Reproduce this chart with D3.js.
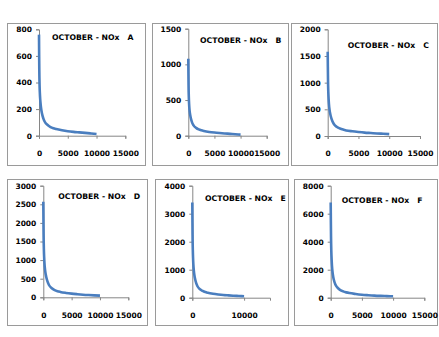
<!DOCTYPE html>
<html>
<head>
<meta charset="utf-8">
<script src="https://cdn.jsdelivr.net/npm/d3@7"></script>
<style>
  html, body { margin: 0; padding: 0; background: #fff; }
  svg { display: block; }
  text { font-family: "DejaVu Sans", Verdana, sans-serif; font-weight: bold; fill: #000; }
</style>
</head>
<body>
<script>
// Shared x positions of the sampled points (rank of the hourly value)
const xValues = [0, 25, 50, 100, 150, 200, 300, 400, 500, 750, 1000, 1500, 2000, 2500, 3000, 4000, 5000, 6000, 7000, 8000, 9000, 10000];

// NOx series for each site, October
const siteA = [760, 610, 500, 380, 320, 280, 230, 195, 170, 130, 105, 80, 65, 56, 50, 41, 34, 29, 25, 21, 17, 13];
const siteB = [1080, 870, 700, 540, 450, 390, 320, 275, 240, 180, 145, 110, 88, 75, 66, 53, 44, 37, 31, 26, 20, 15];
const siteC = [1580, 1300, 1060, 820, 690, 600, 490, 420, 370, 280, 225, 170, 140, 120, 105, 88, 75, 64, 56, 48, 42, 36];
const siteD = [2570, 2100, 1700, 1300, 1080, 930, 750, 640, 560, 420, 330, 245, 195, 165, 145, 118, 98, 83, 70, 60, 52, 45];
const siteE = [3400, 2800, 2250, 1700, 1400, 1200, 960, 810, 700, 520, 410, 300, 240, 200, 175, 140, 115, 95, 82, 70, 60, 50];
const siteF = [6800, 5500, 4400, 3300, 2700, 2300, 1800, 1500, 1280, 950, 760, 560, 450, 380, 330, 265, 215, 180, 150, 130, 115, 100];

// Panel titles and axis ticks
const siteNames = ["A", "B", "C", "D", "E", "F"];
const titlePrefix = "OCTOBER - NOx";
const yTicksA = [0, 200, 400, 600, 800];
const yTicksB = [0, 500, 1000, 1500];
const yTicksC = [0, 500, 1000, 1500, 2000];
const yTicksD = [0, 500, 1000, 1500, 2000, 2500, 3000];
const yTicksE = [0, 1000, 2000, 3000, 4000];
const yTicksF = [0, 2000, 4000, 6000, 8000];
const xTicksStd = [0, 5000, 10000, 15000];
const xTicksE = [0, 10000];
const xMax = 15000;

const seriesList = [siteA, siteB, siteC, siteD, siteE, siteF];
const yTickList = [yTicksA, yTicksB, yTicksC, yTicksD, yTicksE, yTicksF];
const xTickList = [xTicksStd, xTicksStd, xTicksStd, xTicksStd, xTicksE, xTicksStd];

// Layout of each chart box: frame, plot area, title anchor
const layout = [
  { box: [7, 23, 138, 142],  plot: [39, 29.3, 125.3, 135.7],   title: [52, 37.3] },
  { box: [152, 23, 136, 142], plot: [188.3, 28.7, 266.7, 135.7], title: [200, 40] },
  { box: [291, 23, 146, 142], plot: [327.7, 29.3, 420, 136],    title: [347.7, 45] },
  { box: [7, 179, 140, 146],  plot: [43.3, 185.7, 128.3, 297.3], title: [58.3, 196] },
  { box: [155, 179, 133, 146], plot: [192.3, 185.7, 270, 297.7], title: [205, 198.3] },
  { box: [294, 179, 143, 146], plot: [330.7, 185.7, 424.3, 297.7], title: [341.7, 200] }
];

const svg = d3.select("body").append("svg")
  .attr("width", 439).attr("height", 337);

const fmt = d3.format("d");

seriesList.forEach((values, i) => {
  const L = layout[i];
  const [bx, by, bw, bh] = L.box;
  const [x0, y0, x1, y1] = L.plot;
  const yTicks = yTickList[i];

  const g = svg.append("g");

  // chart frame
  g.append("rect")
    .attr("x", bx + 0.5).attr("y", by + 0.5)
    .attr("width", bw).attr("height", bh)
    .attr("fill", "#fff").attr("stroke", "#9a9a9a").attr("stroke-width", 1);

  const x = d3.scaleLinear().domain([0, xMax]).range([x0, x1]);
  const y = d3.scaleLinear().domain([0, yTicks[yTicks.length - 1]]).range([y1, y0]);

  // y axis
  const yAxis = g.append("g")
    .attr("transform", `translate(${x0},0)`)
    .call(d3.axisLeft(y).tickValues(yTicks).tickFormat(fmt).tickSize(3).tickPadding(4));
  yAxis.select(".domain").attr("stroke", "#868686");
  yAxis.selectAll(".tick line").attr("stroke", "#868686");
  yAxis.selectAll("text").attr("font-size", 7.5).attr("fill", "#000")
    .style("font-family", "'DejaVu Sans', Verdana, sans-serif").style("font-weight", "bold");

  // x axis
  const xAxis = g.append("g")
    .attr("transform", `translate(0,${y1})`)
    .call(d3.axisBottom(x).tickValues(xTickList[i]).tickFormat(fmt).tickSize(3).tickPadding(12));
  xAxis.select(".domain").attr("stroke", "#868686");
  xAxis.selectAll(".tick line").attr("stroke", "#868686");
  xAxis.selectAll("text").attr("font-size", 7.5).attr("fill", "#000")
    .style("font-family", "'DejaVu Sans', Verdana, sans-serif").style("font-weight", "bold");

  // series line
  const line = d3.line()
    .x((d, k) => x(xValues[k]))
    .y(d => y(d))
    .curve(d3.curveMonotoneX);
  g.append("path")
    .datum(values)
    .attr("d", line)
    .attr("fill", "none")
    .attr("stroke", "#4a7ebf")
    .attr("stroke-width", 2.6)
    .attr("stroke-linejoin", "round");

  // title
  g.append("text")
    .attr("x", L.title[0]).attr("y", L.title[1])
    .attr("dy", "0.35em")
    .attr("font-size", 7.7)
    .style("white-space", "pre")
    .text(titlePrefix + "   " + siteNames[i]);
});
</script>
</body>
</html>
